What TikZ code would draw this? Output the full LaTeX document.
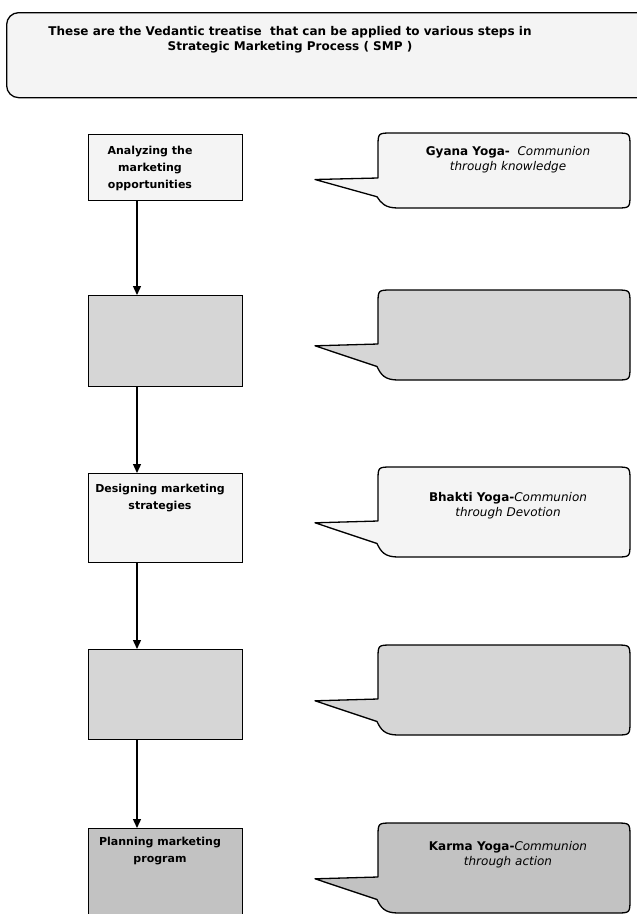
\documentclass[tikz,border=0pt]{standalone}
\usepackage{fontspec}
\setmainfont{DejaVu Sans}
\usetikzlibrary{arrows.meta,calc}
\newcommand\speechshape[3]{%
  \filldraw[bubble,fill=#3]
    (378,{#1+0.6*(#2-#1)}) -- (378,#1+14) .. controls (378,#1) .. (392,#1)
    -- (616,#1) .. controls (630,#1) .. (630,#1+14)
    -- (630,#2-14) .. controls (630,#2) .. (616,#2)
    -- (398,#2) .. controls (385,#2) and (381,#2-5) .. (377,{#2-0.15*(#2-#1)})
    -- (315,{#1+0.62*(#2-#1)}) -- cycle;}
\begin{document}
\begin{tikzpicture}[x=1pt,y=-1pt,
  stepbox/.style={draw=black,line width=1.3pt,anchor=north west,inner sep=0pt,minimum width=154pt},
  boxtext/.style={font=\fontsize{11}{17}\selectfont\bfseries,align=center,inner sep=0pt},
  bubtext/.style={font=\fontsize{12}{15}\selectfont,align=center,inner sep=0pt},
  bubble/.style={draw=black,line width=1.3pt,line join=round},
  conn/.style={draw=black,line width=1.3pt,-{Triangle[length=9pt,width=8pt]}},
  lightfill/.style={fill=gray!9},
  midfill/.style={fill=gray!32},
  darkfill/.style={fill=gray!48}
]
\clip (0,0) rectangle (637,914);
\fill[white] (0,0) rectangle (637,914);

% header
\node[draw=black,line width=1.3pt,rounded corners=12pt,lightfill,anchor=north west,
      minimum width=650pt,minimum height=85pt,inner sep=0pt] (hdr) at (6,12) {};
\node[font=\fontsize{12}{15}\selectfont\bfseries,align=center,inner sep=0pt] (hdrtext) at (290,40)
  {These are the Vedantic treatise\ \ that can be applied to various steps in\\Strategic Marketing Process ( SMP )};

% steps
\node[stepbox,lightfill,minimum height=66pt] (b1) at (88,134) {};
\node[stepbox,midfill,minimum height=91pt] (b2) at (88,295) {};
\node[stepbox,lightfill,minimum height=89pt] (b3) at (88,473) {};
\node[stepbox,midfill,minimum height=90pt] (b4) at (88,649) {};
\node[stepbox,darkfill,minimum height=95pt] (b5) at (88,828) {};

\node[boxtext] (t1) at (150,168) {Analyzing the\\marketing\\opportunities};
\node[boxtext] (t3) at (160,498) {Designing marketing\\strategies};
\node[boxtext] (t5) at (160,851) {Planning marketing\\program};

\draw[conn] ($(b1.south west)+(49,0)$) -- ($(b2.north west)+(49,0)$);
\draw[conn] ($(b2.south west)+(49,0)$) -- ($(b3.north west)+(49,0)$);
\draw[conn] ($(b3.south west)+(49,0)$) -- ($(b4.north west)+(49,0)$);
\draw[conn] ($(b4.south west)+(49,0)$) -- ($(b5.north west)+(49,0)$);

% speech bubbles
\speechshape{133}{208}{gray!9}
\speechshape{290}{380}{gray!32}
\speechshape{467}{557}{gray!9}
\speechshape{645}{735}{gray!32}
\speechshape{823}{913}{gray!48}

\node[bubtext] (s1) at (508,160) {\textbf{Gyana Yoga-}\ \ \textit{Communion}\\\textit{through knowledge}};
\node[bubtext] (s3) at (508,506) {\textbf{Bhakti Yoga-}\textit{Communion}\\\textit{through Devotion}};
\node[bubtext] (s5) at (508,855) {\textbf{Karma Yoga-}\textit{Communion}\\\textit{through action}};
\end{tikzpicture}
\end{document}
